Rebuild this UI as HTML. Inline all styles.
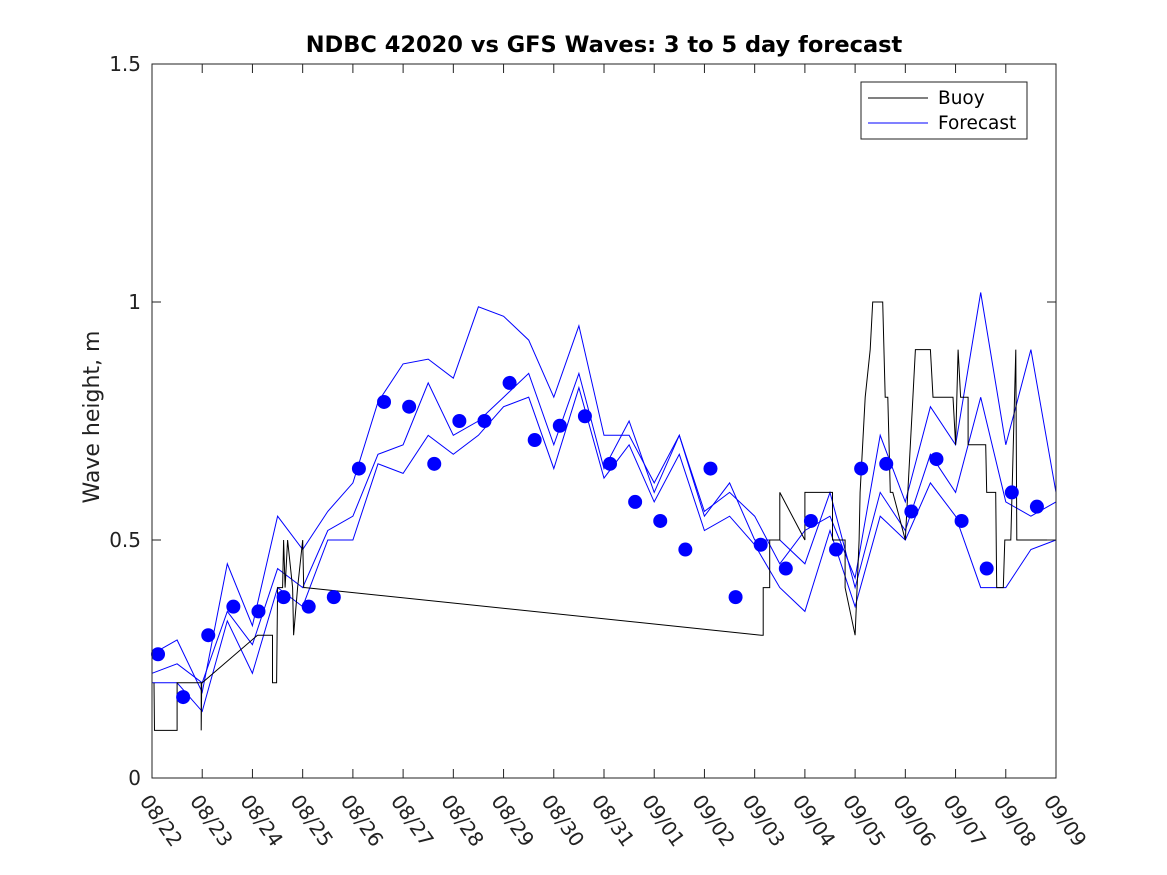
<!DOCTYPE html>
<html><head><meta charset="utf-8"><style>
body{margin:0;background:#fff;}
svg{display:block;font-family:"DejaVu Sans","Liberation Sans",sans-serif;}
</style></head><body>
<svg id="chart" width="1167" height="875" viewBox="0 0 1167 875">
<rect x="0" y="0" width="1167" height="875" fill="#fff"/>
<text x="604" y="52" text-anchor="middle" font-size="22.5" font-weight="bold" fill="#000">NDBC 42020 vs GFS Waves: 3 to 5 day forecast</text>
<text transform="translate(99,417) rotate(-90)" text-anchor="middle" font-size="22" fill="#222">Wave height, m</text>
<g id="marks"></g>
<g id="axes"></g>
<g>
<rect x="861" y="82" width="166" height="57" fill="#fff" stroke="#222" stroke-width="1"/>
<line x1="868" y1="98" x2="928" y2="98" stroke="#000" stroke-width="1"/>
<text x="938" y="104" font-size="18.5" fill="#000">Buoy</text>
<line x1="868" y1="123" x2="928" y2="123" stroke="#00f" stroke-width="1"/>
<text x="938" y="129" font-size="18.5" fill="#000">Forecast</text>
</g>
</svg>
<script>
const xTickLabels=["08/22","08/23","08/24","08/25","08/26","08/27","08/28","08/29","08/30","08/31","09/01","09/02","09/03","09/04","09/05","09/06","09/07","09/08","09/09"];
const yTicks=[0,0.5,1,1.5];
const yTickLabels=["0","0.5","1","1.5"];
const dotDays=[0.12,0.62,1.12,1.62,2.12,2.62,3.12,3.62,4.12,4.62,5.12,5.62,6.12,6.62,7.12,7.62,8.12,8.62,9.12,9.62,10.12,10.62,11.12,11.62,12.12,12.62,13.12,13.62,14.12,14.62,15.12,15.62,16.12,16.62,17.12,17.62];
const dotValues=[0.26,0.17,0.30,0.36,0.35,0.38,0.36,0.38,0.65,0.79,0.78,0.66,0.75,0.75,0.83,0.71,0.74,0.76,0.66,0.58,0.54,0.48,0.65,0.38,0.49,0.44,0.54,0.48,0.65,0.66,0.56,0.67,0.54,0.44,0.60,0.57];
const fcDays=[0,0.5,1,1.5,2,2.5,3,3.5,4,4.5,5,5.5,6,6.5,7,7.5,8,8.5,9,9.5,10,10.5,11,11.5,12,12.5,13,13.5,14,14.5,15,15.5,16,16.5,17,17.5,18];
const fcUpper=[0.26,0.29,0.18,0.45,0.32,0.55,0.48,0.56,0.62,0.79,0.87,0.88,0.84,0.99,0.97,0.92,0.80,0.95,0.72,0.72,0.62,0.72,0.56,0.60,0.55,0.45,0.52,0.55,0.42,0.72,0.58,0.78,0.70,1.02,0.70,0.90,0.60];
const fcMiddle=[0.22,0.24,0.20,0.35,0.28,0.44,0.40,0.52,0.55,0.68,0.70,0.83,0.72,0.75,0.80,0.85,0.70,0.85,0.65,0.75,0.60,0.72,0.55,0.62,0.50,0.50,0.45,0.60,0.40,0.60,0.52,0.68,0.60,0.80,0.58,0.55,0.58];
const fcLower=[0.20,0.20,0.14,0.33,0.22,0.40,0.36,0.50,0.50,0.66,0.64,0.72,0.68,0.72,0.78,0.80,0.65,0.82,0.63,0.70,0.58,0.68,0.52,0.55,0.49,0.40,0.35,0.52,0.36,0.55,0.50,0.62,0.55,0.40,0.40,0.48,0.50];
const buoyDays=[0.04,0.05,0.06,0.5,0.5,0.98,0.98,0.99,1.0,2.1,2.4,2.4,2.48,2.5,2.6,2.62,2.65,2.7,2.8,2.82,2.9,3.0,3.02,3.05,12.13,12.17,12.17,12.3,12.3,12.5,12.5,12.5,13.0,13.0,13.15,13.55,13.55,13.8,13.8,14.0,14.08,14.1,14.2,14.3,14.35,14.55,14.6,14.65,14.7,14.75,15.0,15.05,15.15,15.2,15.25,15.5,15.55,15.95,16.0,16.05,16.1,16.15,16.25,16.25,16.6,16.62,16.8,16.82,16.95,16.98,17.1,17.2,17.22,17.25,18.0];
const buoyValues=[0.2,0.1,0.1,0.1,0.2,0.2,0.1,0.2,0.2,0.3,0.3,0.2,0.2,0.4,0.4,0.5,0.4,0.5,0.4,0.3,0.4,0.5,0.4,0.4,0.3,0.3,0.4,0.4,0.5,0.5,0.6,0.6,0.5,0.6,0.6,0.6,0.5,0.5,0.4,0.3,0.5,0.6,0.8,0.9,1.0,1.0,0.8,0.8,0.6,0.6,0.5,0.6,0.8,0.9,0.9,0.9,0.8,0.8,0.7,0.9,0.8,0.8,0.8,0.7,0.7,0.6,0.6,0.4,0.4,0.5,0.5,0.9,0.5,0.5,0.5];

const X0=152,X1=1056,Y0=778,Y1=64;
const xs=d=>X0+(X1-X0)*d/18;
const ys=v=>Y0-(Y0-Y1)*v/1.5;
const NS="http://www.w3.org/2000/svg";
const marks=document.getElementById('marks');
const axes=document.getElementById('axes');
function mk(tag,attrs,parent){const e=document.createElementNS(NS,tag);for(const k in attrs)e.setAttribute(k,attrs[k]);parent.appendChild(e);return e;}

function line(days,vals,color,name){
  const p=mk('path',{d:days.map((d,i)=>(i?'L':'M')+xs(d).toFixed(1)+','+ys(vals[i]).toFixed(1)).join(''),fill:'none',stroke:color,'stroke-width':1},marks);
  
  
}
line(fcDays,fcUpper,'#00f','forecast-line-upper');
line(fcDays,fcMiddle,'#00f','forecast-line-middle');
line(fcDays,fcLower,'#00f','forecast-line-lower');
line(buoyDays,buoyValues,'#000','buoy-line');
dotValues.forEach((v,i)=>{
  const c=mk('circle',{cx:xs(dotDays[i]),cy:ys(v),r:7,fill:'#00f'},marks);
  
  
});

const frame=mk('rect',{x:X0,y:Y1,width:X1-X0,height:Y0-Y1,fill:'none',stroke:'#222','stroke-width':1},axes);


xTickLabels.forEach((lab,i)=>{
  const x=xs(i);
  mk('line',{x1:x,y1:Y0,x2:x,y2:Y0-9,stroke:'#222'},axes);
  mk('line',{x1:x,y1:Y1,x2:x,y2:Y1+9,stroke:'#222'},axes);
  const t=mk('text',{transform:`translate(${x-13},${801}) rotate(55)`,'font-size':20,fill:'#222'},axes);
  t.textContent=lab;
  
  
});
yTicks.forEach((v,i)=>{
  const y=ys(v);
  mk('line',{x1:X0,y1:y,x2:X0+9,y2:y,stroke:'#222'},axes);
  mk('line',{x1:X1,y1:y,x2:X1-9,y2:y,stroke:'#222'},axes);
  const t=mk('text',{x:X0-11,y:y+7,'text-anchor':'end','font-size':20,fill:'#222'},axes);
  t.textContent=yTickLabels[i];
  
  
});
</script>
</body></html>
